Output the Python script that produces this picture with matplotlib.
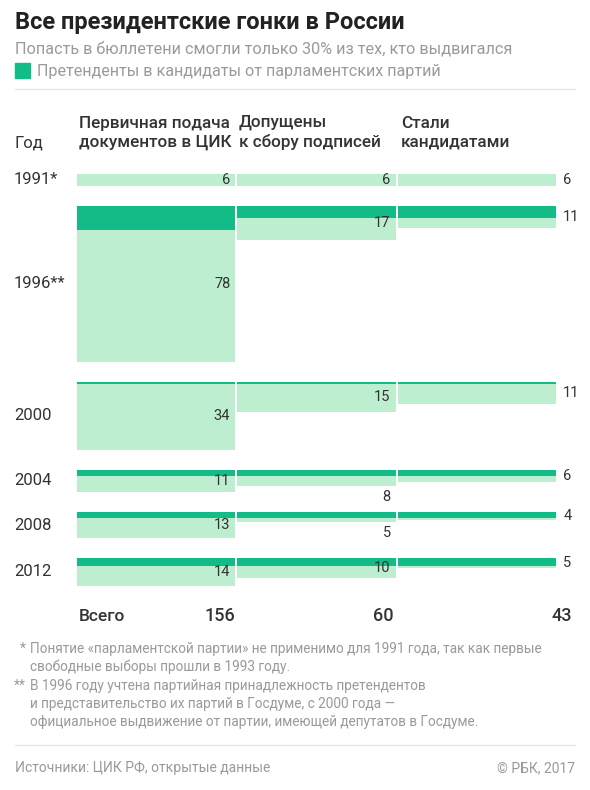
import matplotlib
matplotlib.use("Agg")
import matplotlib.pyplot as plt
from matplotlib.transforms import blended_transform_factory

plt.rcParams['font.family'] = ['Roboto', 'DejaVu Sans']

# данные
years = ["1991*", "1996**", "2000", "2004", "2008", "2012"]
stages = ["Первичная подача\nдокументов в ЦИК", "Допущены\nк сбору подписей", "Стали\nкандидатами"]
# всего претендентов на каждом этапе
first_stage = [6, 78, 34, 11, 13, 14]
second_stage = [6, 17, 15, 8, 5, 10]
third_stage = [6, 11, 11, 6, 4, 5]
# из них от парламентских партий
party_first = [0, 12, 1, 3, 3, 4]
party_second = [0, 6, 1, 3, 3, 4]
party_third = [0, 6, 1, 3, 3, 4]
totals = ["156", "60", "43"]

totals_by_stage = [first_stage, second_stage, third_stage]
party_by_stage = [party_first, party_second, party_third]

DARK = "#13bc87"
LIGHT = "#bdeed0"
TXT = "#333333"
GRAY = "#9a9a9a"

W, H = 590, 790
fig = plt.figure(figsize=(W / 100, H / 100), dpi=100)
fig.patch.set_facecolor("white")


def fx(px):
    return px / W


def fy(py):
    return 1 - py / H


# раскладка строк: каждая строка по высоте равна максимальному значению, зазор 10
gap = 10
row_top = []
y = 0
for i in range(len(years)):
    row_top.append(y)
    y += max(first_stage[i], second_stage[i], third_stage[i]) + gap
y_total = y - gap

ax_top, ax_bottom = 174, 174 + 2 * y_total
ax = fig.add_axes([fx(77), fy(ax_bottom), fx(558) - fx(77), fy(ax_top) - fy(ax_bottom)])
ax.set_xlim(0, 3)
ax.set_ylim(y_total, 0)
ax.axis("off")

bw = 0.9875
pad = 5 / 160.3
for c in range(3):
    tot = totals_by_stage[c]
    par = party_by_stage[c]
    ax.bar([c] * len(years), par, bottom=row_top, width=bw, align="edge", color=DARK, linewidth=0)
    light = [t - p for t, p in zip(tot, par)]
    bottoms = [r + p for r, p in zip(row_top, par)]
    ax.bar([c] * len(years), light, bottom=bottoms, width=bw, align="edge", color=LIGHT, linewidth=0)
    for i in range(len(years)):
        if c == 2:
            ax.text(c + bw + 0.045, row_top[i] + tot[i] / 2, str(tot[i]), ha="left", va="center",
                    fontsize=10.5, color=TXT, clip_on=False)
        elif tot[i] - par[i] >= 6:
            ax.text(c + bw - pad, row_top[i] + tot[i] / 2, str(tot[i]), ha="right", va="center",
                    fontsize=10.5, color=TXT)
        else:
            ax.text(c + bw - pad, row_top[i] + tot[i] + 2, str(tot[i]), ha="right", va="top",
                    fontsize=10.5, color=TXT, clip_on=False)

# подписи годов
trans = blended_transform_factory(fig.transFigure, ax.transData)
for i, yr in enumerate(years):
    mx = max(first_stage[i], second_stage[i], third_stage[i])
    ax.text(fx(14), row_top[i] + mx / 2, yr, transform=trans, ha="left", va="center",
            fontsize=12, color=TXT, clip_on=False)

# заголовки
fig.text(fx(15), fy(29), "Все президентские гонки в России", fontsize=17, fontweight="bold",
         color="#222222", ha="left", va="baseline")
fig.text(fx(15), fy(54), "Попасть в бюллетени смогли только 30% из тех, кто выдвигался",
         fontsize=11.7, color=GRAY, ha="left", va="baseline")
fig.patches.append(plt.Rectangle((fx(15), fy(78)), fx(15), fy(63) - fy(78), color=DARK,
                                 transform=fig.transFigure, figure=fig))
fig.text(fx(37), fy(76), "Претенденты в кандидаты от парламентских партий",
         fontsize=11.6, color=GRAY, ha="left", va="baseline")
fig.lines.append(plt.Line2D([fx(15), fx(575)], [fy(89), fy(89)], color="#e6e6e6", lw=1,
                            transform=fig.transFigure, figure=fig))

fig.text(fx(15), fy(147), "Год", fontsize=12, color=TXT, ha="left", va="baseline")
for c, name in enumerate(stages):
    fig.text(fx([79, 239, 401][c]), fy(147), name, fontsize=12.3, fontweight="medium",
             color=TXT, ha="left", va="baseline", linespacing=1.3)

# итог
fig.text(fx(79), fy(621), "Всего", fontsize=12.5, fontweight="medium", color=TXT,
         ha="left", va="baseline")
for c, t in enumerate(totals):
    fig.text(fx([235, 393, 572][c]), fy(621), t, fontsize=13, fontweight="medium",
             color=TXT, ha="right", va="baseline")

# сноски
notes = [
    (20, 653, "*"),
    (30, 653, "Понятие «парламентской партии» не применимо для 1991 года, так как первые"),
    (30, 671, "свободные выборы прошли в 1993 году."),
    (14, 690, "**"),
    (30, 690, "В 1996 году учтена партийная принадлежность претендентов"),
    (30, 708, "и представительство их партий в Госдуме, с 2000 года —"),
    (30, 726, "официальное выдвижение от партии, имеющей депутатов в Госдуме."),
]
for x0, y0, s in notes:
    fig.text(fx(x0), fy(y0), s, fontsize=9.8, color=GRAY, ha="left", va="baseline")

fig.lines.append(plt.Line2D([fx(15), fx(575)], [fy(745), fy(745)], color="#e6e6e6", lw=1,
                            transform=fig.transFigure, figure=fig))
fig.text(fx(15), fy(772), "Источники: ЦИК РФ, открытые данные", fontsize=10, color=GRAY,
         ha="left", va="baseline")
fig.text(fx(575), fy(772), "© РБК, 2017", fontsize=10, color=GRAY, ha="right", va="baseline")

fig.savefig("out.png", dpi=100, facecolor="white")
